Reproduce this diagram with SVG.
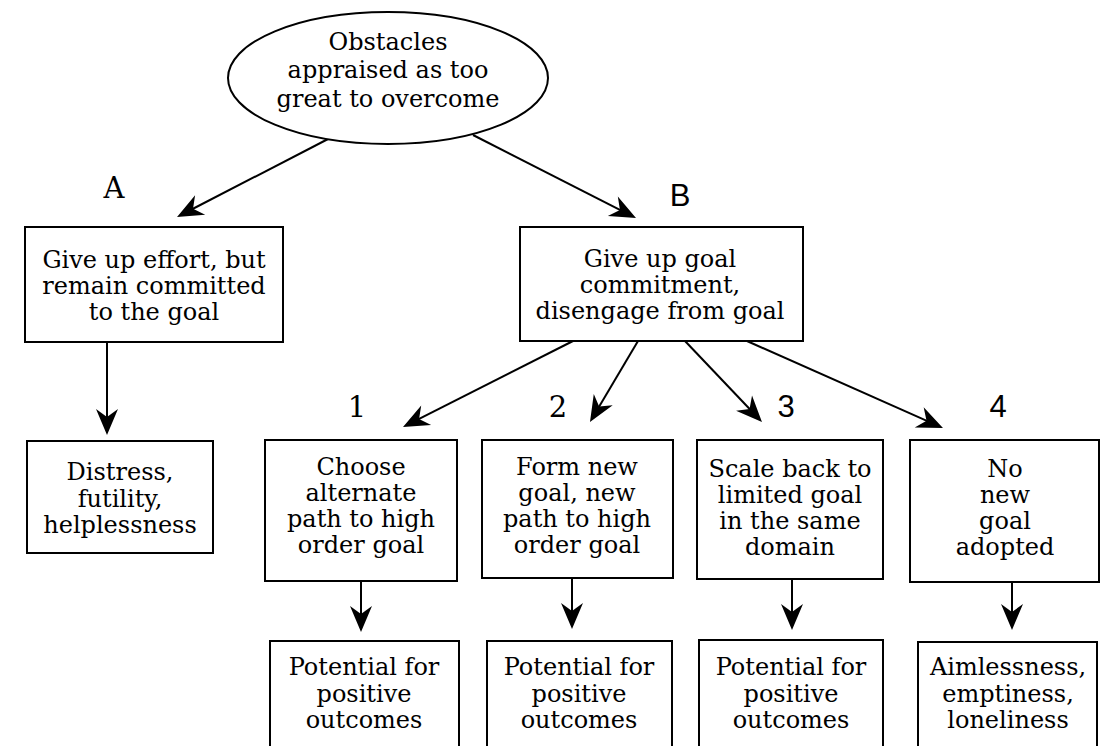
<svg xmlns="http://www.w3.org/2000/svg" width="1105" height="746" viewBox="0 0 1105 746">
  <style>
    .box { fill: #fff; stroke: #000; stroke-width: 2; }
    .t { font-family: "DejaVu Serif", "Liberation Serif", serif; font-size: 24px; fill: #000; text-anchor: middle; }
    .lab { font-family: "DejaVu Serif", "Liberation Serif", serif; font-size: 29px; fill: #000; text-anchor: middle; }
    .labs { font-family: "Liberation Sans", Arial, sans-serif; font-size: 31px; fill: #000; text-anchor: middle; }
    .edge { fill: none; stroke: #000; stroke-width: 2; marker-end: url(#head); }
  </style>
  <defs>
    <marker id="head" markerUnits="userSpaceOnUse" viewBox="-16 -13 30 26" markerWidth="30" markerHeight="26" refX="0" refY="0" orient="auto">
      <path d="M12,0 L-14,-11 L-6,0 L-14,11 Z" fill="#000"/>
    </marker>
  </defs>
  <rect width="1105" height="746" fill="#fff"/>

  <g id="connectors">
    <path class="edge" d="M330,138 L187.7,211.5"/>
    <path class="edge" d="M473,135 L625.3,212.6"/>
    <path class="edge" d="M107,342 L107,423"/>
    <path class="edge" d="M573,341 L413.7,421.6"/>
    <path class="edge" d="M638,341 L596.1,411.7"/>
    <path class="edge" d="M685,341 L753.7,413.3"/>
    <path class="edge" d="M747,341 L932,423.1"/>
    <path class="edge" d="M361,581 L361,620"/>
    <path class="edge" d="M572,578 L572,617"/>
    <path class="edge" d="M792,579 L792,618"/>
    <path class="edge" d="M1012,582 L1012,618"/>
  </g>

  <g id="labels">
    <text class="lab" x="114" y="198">A</text>
    <text class="labs" x="680" y="206">B</text>
    <text class="lab" x="357" y="417">1</text>
    <text class="lab" x="558" y="417">2</text>
    <text class="labs" x="786" y="417">3</text>
    <text class="labs" x="998" y="417">4</text>
  </g>

  <g id="obstacles">
    <ellipse class="box" cx="388" cy="78" rx="160" ry="66"/>
    <text class="t" x="388" y="50">Obstacles</text>
    <text class="t" x="388" y="78">appraised as too</text>
    <text class="t" x="388" y="107">great to overcome</text>
  </g>

  <g id="give-up-effort">
    <rect class="box" x="25" y="227" width="258" height="115"/>
    <text class="t" x="154" y="268">Give up effort, but</text>
    <text class="t" x="154" y="294">remain committed</text>
    <text class="t" x="154" y="320">to the goal</text>
  </g>

  <g id="give-up-goal">
    <rect class="box" x="520" y="227" width="283" height="114"/>
    <text class="t" x="660" y="267">Give up goal</text>
    <text class="t" x="660" y="293">commitment,</text>
    <text class="t" x="660" y="319">disengage from goal</text>
  </g>

  <g id="distress">
    <rect class="box" x="27" y="441" width="186" height="112"/>
    <text class="t" x="120" y="480">Distress,</text>
    <text class="t" x="120" y="507">futility,</text>
    <text class="t" x="120" y="533">helplessness</text>
  </g>

  <g id="alternate-path">
    <rect class="box" x="265" y="440" width="192" height="141"/>
    <text class="t" x="361" y="475">Choose</text>
    <text class="t" x="361" y="501">alternate</text>
    <text class="t" x="361" y="527">path to high</text>
    <text class="t" x="361" y="553">order goal</text>
  </g>

  <g id="new-goal">
    <rect class="box" x="482" y="440" width="191" height="138"/>
    <text class="t" x="577" y="475">Form new</text>
    <text class="t" x="577" y="501">goal, new</text>
    <text class="t" x="577" y="527">path to high</text>
    <text class="t" x="577" y="553">order goal</text>
  </g>

  <g id="scale-back">
    <rect class="box" x="697" y="440" width="186" height="139"/>
    <text class="t" x="790" y="477">Scale back to</text>
    <text class="t" x="790" y="503">limited goal</text>
    <text class="t" x="790" y="529">in the same</text>
    <text class="t" x="790" y="555">domain</text>
  </g>

  <g id="no-new-goal">
    <rect class="box" x="910" y="440" width="189" height="142"/>
    <text class="t" x="1005" y="477">No</text>
    <text class="t" x="1005" y="503">new</text>
    <text class="t" x="1005" y="529">goal</text>
    <text class="t" x="1005" y="555">adopted</text>
  </g>

  <g id="outcome-1">
    <rect class="box" x="270" y="641" width="189" height="120"/>
    <text class="t" x="364" y="675">Potential for</text>
    <text class="t" x="364" y="702">positive</text>
    <text class="t" x="364" y="728">outcomes</text>
  </g>

  <g id="outcome-2">
    <rect class="box" x="487" y="641" width="185" height="120"/>
    <text class="t" x="579" y="675">Potential for</text>
    <text class="t" x="579" y="702">positive</text>
    <text class="t" x="579" y="728">outcomes</text>
  </g>

  <g id="outcome-3">
    <rect class="box" x="699" y="640" width="184" height="120"/>
    <text class="t" x="791" y="675">Potential for</text>
    <text class="t" x="791" y="702">positive</text>
    <text class="t" x="791" y="728">outcomes</text>
  </g>

  <g id="outcome-4">
    <rect class="box" x="918" y="642" width="179" height="120"/>
    <text class="t" x="1008" y="675">Aimlessness,</text>
    <text class="t" x="1008" y="702">emptiness,</text>
    <text class="t" x="1008" y="728">loneliness</text>
  </g>
</svg>
